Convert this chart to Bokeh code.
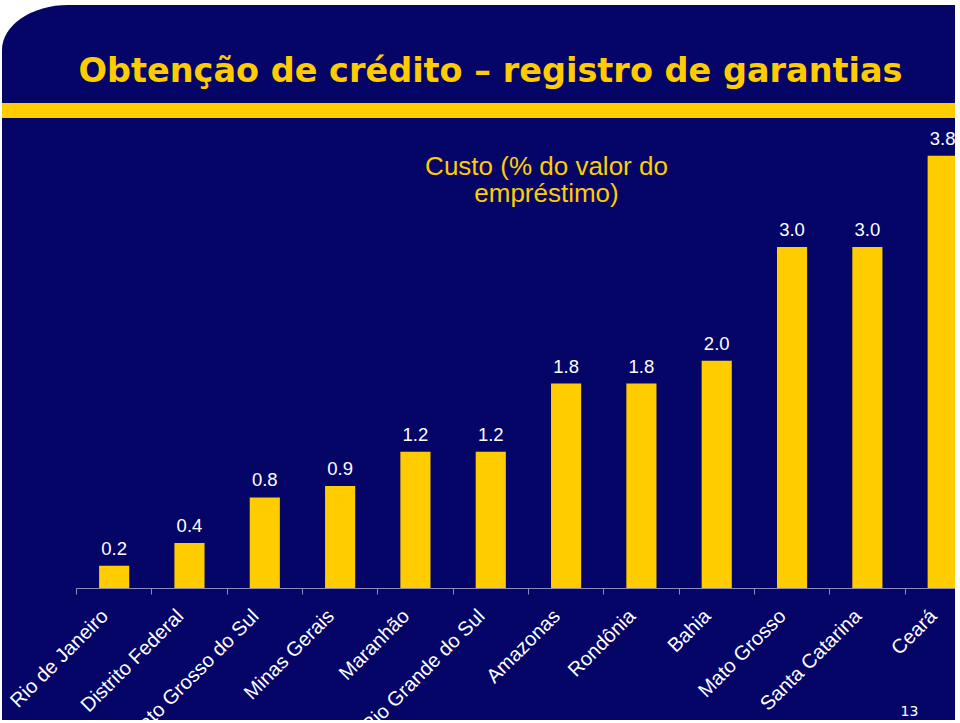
import numpy as np
from bokeh.plotting import figure
from bokeh.models import ColumnDataSource, LabelSet, Label, Range1d, FixedTicker
from bokeh.core.properties import value
from bokeh.embed import file_html
from bokeh.resources import INLINE

# ---- data ----
categories = ["Rio de Janeiro", "Distrito Federal", "Mato Grosso do Sul", "Minas Gerais",
              "Maranhão", "Rio Grande do Sul", "Amazonas", "Rondônia", "Bahia",
              "Mato Grosso", "Santa Catarina", "Ceará"]
custo = [0.2, 0.4, 0.8, 0.9, 1.2, 1.2, 1.8, 1.8, 2.0, 3.0, 3.0, 3.8]
value_labels = [f"{v:.1f}" for v in custo]
title_text = "Obtenção de crédito – registro de garantias"
subtitle_lines = ["Custo (% do valor do", "empréstimo)"]
page_number = "13"

NAVY = "#050568"
YELLOW = "#FFCC00"
AXIS = "#8C8CC0"

# ---- layout constants (pixels) ----
FRAME_LEFT, FRAME_TOP = 74, 0          # inside the figure
FRAME_W, FRAME_H = 879, 583
X_START, X_END = -0.5, 11.17
Y_END = 5.12
HOST_X, HOST_Y = 2, 5                  # page position of the figure
LABEL_SHIFT = -0.13                    # category labels sit a little left of centre


def px_to_x(px):
    return X_START + (px - HOST_X - FRAME_LEFT) / FRAME_W * (X_END - X_START)


def py_to_y(py):
    return (HOST_Y + FRAME_TOP + FRAME_H - py) / FRAME_H * Y_END


xs = list(range(len(categories)))
src = ColumnDataSource(dict(x=xs, top=custo, label=value_labels))

p = figure(frame_width=FRAME_W, frame_height=FRAME_H,
           x_range=Range1d(X_START, X_END), y_range=Range1d(0, Y_END),
           output_backend="svg", toolbar_location=None, title_location=None,
           y_axis_location=None,
           min_border_left=FRAME_LEFT, min_border_right=0,
           min_border_top=FRAME_TOP, min_border_bottom=220)

p.background_fill_color = None
p.border_fill_color = None
p.outline_line_color = None
p.grid.visible = False

gradient = (f"linear-gradient(to bottom, {NAVY} 0px, {NAVY} 98px, {YELLOW} 98px, "
            f"{YELLOW} 113px, {NAVY} 113px, {NAVY} 100%)")
p.styles = {"margin-left": f"{HOST_X}px", "margin-top": f"{HOST_Y}px",
            "width": "953px", "height": "715px", "overflow": "hidden",
            "background": gradient,
            "border-top-left-radius": "66px 45px"}

p.vbar(x="x", top="top", width=0.4, source=src, fill_color=YELLOW, line_color=None)

p.add_layout(LabelSet(x="x", y="top", text="label", source=src, y_offset=11,
                      text_align="center", text_baseline="alphabetic",
                      text_color="white", text_font=value("Liberation Sans"),
                      text_font_size=value("18.5px")))

label_ticks = [i + LABEL_SHIFT for i in xs]
ax = p.xaxis[0]
ax.ticker = FixedTicker(ticks=label_ticks,
                        minor_ticks=[i - 0.5 for i in range(len(categories) + 1)])
ax.major_label_overrides = {t: c for t, c in zip(label_ticks, categories)}
ax.major_label_orientation = np.pi / 4
ax.major_label_text_color = "white"
ax.major_label_text_font = "Liberation Sans"
ax.major_label_text_font_size = "20px"
ax.major_label_standoff = 18
ax.major_tick_line_color = None
ax.major_tick_out = 0
ax.major_tick_in = 0
ax.minor_tick_line_color = AXIS
ax.minor_tick_out = 6
ax.minor_tick_in = 0
ax.axis_line_color = AXIS

p.add_layout(Label(x=px_to_x(78), y=py_to_y(70), text=title_text,
                   text_font="DejaVu Sans", text_font_style="bold",
                   text_font_size="33.5px", text_color=YELLOW,
                   text_align="left", text_baseline="middle"))

for line, mid in zip(subtitle_lines, [165, 192]):
    p.add_layout(Label(x=px_to_x(546), y=py_to_y(mid), text=line,
                       text_font="Liberation Sans", text_font_size="26px",
                       text_color=YELLOW, text_align="center",
                       text_baseline="middle"))

# page number: put in the bottom side panel (not clipped to the frame),
# positioned in canvas pixels at the slide's bottom-right corner
p.add_layout(Label(x=909 - HOST_X, y=710 - HOST_Y, x_units="canvas", y_units="canvas",
                   text=page_number,
                   text_font="DejaVu Sans", text_font_size="14px",
                   text_color="white", text_align="center",
                   text_baseline="middle"), "below")

open("out.html", "w").write(file_html(p, INLINE))
